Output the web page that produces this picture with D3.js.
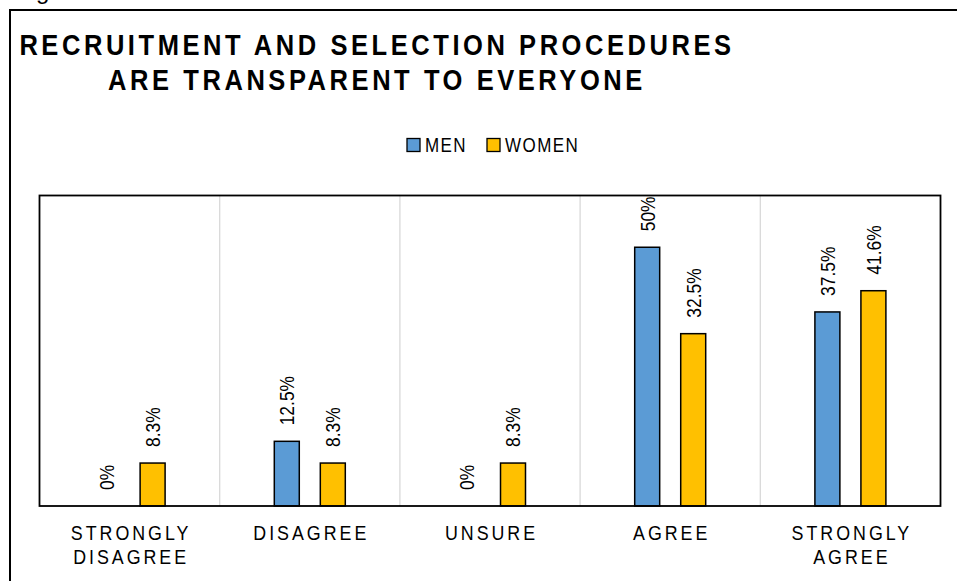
<!DOCTYPE html>
<html>
<head>
<meta charset="utf-8">
<script src="https://cdn.jsdelivr.net/npm/d3@7"></script>
<style>
  body { margin: 0; background: #fff; }
  svg { display: block; }
  text { font-family: "Liberation Sans", Arial, sans-serif; fill: #000; }
</style>
</head>
<body>
<div id="chart"></div>
<script>
// chart data
const categories = [["STRONGLY", "DISAGREE"], ["DISAGREE"], ["UNSURE"], ["AGREE"], ["STRONGLY", "AGREE"]];
const seriesNames = ["MEN", "WOMEN"];
const menValues = [0, 12.5, 0, 50, 37.5];
// bar heights as drawn (the "32.5%" bar is drawn at about 33.3)
const womenValues = [8.3, 8.3, 8.3, 33.3, 41.6];
const menLabels = ["0%", "12.5%", "0%", "50%", "37.5%"];
const womenLabels = ["8.3%", "8.3%", "8.3%", "32.5%", "41.6%"];
const titleLines = ["RECRUITMENT AND SELECTION PROCEDURES", "ARE TRANSPARENT TO EVERYONE"];

const colors = { MEN: "#5B9BD5", WOMEN: "#FFC000" };

const width = 957, height = 581;
const plot = { left: 39.5, top: 195.5, right: 940.5, bottom: 506 };
// the original uses a narrow face; squeeze Liberation Sans horizontally
const narrow = 0.85;

const svg = d3.select("#chart").append("svg")
  .attr("width", width)
  .attr("height", height);

// cropped text from above the frame
svg.append("text")
  .attr("x", 36)
  .attr("y", -1)
  .style("font-size", "24px")
  .text("g");

// outer frame (runs off the right and bottom edges)
svg.append("rect")
  .attr("x", 10).attr("y", 10)
  .attr("width", 970).attr("height", 600)
  .attr("fill", "none")
  .attr("stroke", "#000")
  .attr("stroke-width", 2);

// title
svg.append("g")
  .selectAll("text")
  .data(titleLines)
  .join("text")
  .attr("transform", (d, i) => `translate(377,${54.5 + i * 35.5}) scale(${narrow},1)`)
  .attr("text-anchor", "middle")
  .style("font-size", "30px")
  .style("font-weight", "bold")
  .style("letter-spacing", "4.2px")
  .text(d => d);

// legend
const legend = svg.append("g")
  .selectAll("g")
  .data(seriesNames)
  .join("g")
  .attr("transform", (d, i) => `translate(${[407, 487][i]},138.5)`);
legend.append("rect")
  .attr("width", 13).attr("height", 13)
  .attr("fill", d => colors[d])
  .attr("stroke", "#000")
  .attr("stroke-width", 1.3);
legend.append("text")
  .attr("transform", `translate(18,13.5) scale(${narrow},1)`)
  .style("font-size", "20px")
  .style("letter-spacing", "1.7px")
  .text(d => d);

// scales
const data = categories.map((c, i) => ({
  key: i,
  label: c,
  values: [
    { s: "MEN", v: menValues[i], t: menLabels[i] },
    { s: "WOMEN", v: womenValues[i], t: womenLabels[i] },
  ],
}));

const x0 = d3.scaleBand()
  .domain(data.map(d => d.key))
  .range([plot.left, plot.right]);
const bw = x0.bandwidth();
const x1 = d3.scaleBand()
  .domain(seriesNames)
  .range([bw / 2 - 35.5, bw / 2 + 35.5])
  .paddingInner(0.457);
const y = d3.scaleLinear().domain([0, 60]).range([plot.bottom, plot.top]);

// vertical separators between categories
svg.append("g")
  .selectAll("line")
  .data(data.slice(1))
  .join("line")
  .attr("x1", d => x0(d.key)).attr("x2", d => x0(d.key))
  .attr("y1", plot.top).attr("y2", plot.bottom)
  .attr("stroke", "#d9d9d9")
  .attr("stroke-width", 1.3);

// bars and labels
const groups = svg.append("g")
  .selectAll("g")
  .data(data)
  .join("g")
  .attr("transform", d => `translate(${x0(d.key)},0)`);

groups.selectAll("rect")
  .data(d => d.values.filter(v => v.v > 0))
  .join("rect")
  .attr("x", d => x1(d.s))
  .attr("y", d => y(d.v))
  .attr("width", x1.bandwidth())
  .attr("height", d => y(0) - y(d.v))
  .attr("fill", d => colors[d.s])
  .attr("stroke", "#000")
  .attr("stroke-width", 1.5);

groups.selectAll("text.val")
  .data(d => d.values)
  .join("text")
  .attr("class", "val")
  .attr("transform", d =>
    `translate(${x1(d.s) + x1.bandwidth() / 2 + 7.4},${y(d.v) - 16}) rotate(-90) scale(${narrow},1)`)
  .style("font-size", "20.5px")
  .text(d => d.t);

// plot frame
svg.append("rect")
  .attr("x", plot.left).attr("y", plot.top)
  .attr("width", plot.right - plot.left)
  .attr("height", plot.bottom - plot.top)
  .attr("fill", "none")
  .attr("stroke", "#000")
  .attr("stroke-width", 1.8);

// category labels
svg.append("g")
  .selectAll("g")
  .data(data)
  .join("g")
  .selectAll("text")
  .data(d => d.label.map(l => ({ l, cx: x0(d.key) + bw / 2 })))
  .join("text")
  .attr("transform", (d, i) => `translate(${d.cx + 1.5},${540 + i * 24}) scale(${narrow},1)`)
  .attr("text-anchor", "middle")
  .style("font-size", "21px")
  .style("letter-spacing", "3.5px")
  .text(d => d.l);
</script>
</body>
</html>
